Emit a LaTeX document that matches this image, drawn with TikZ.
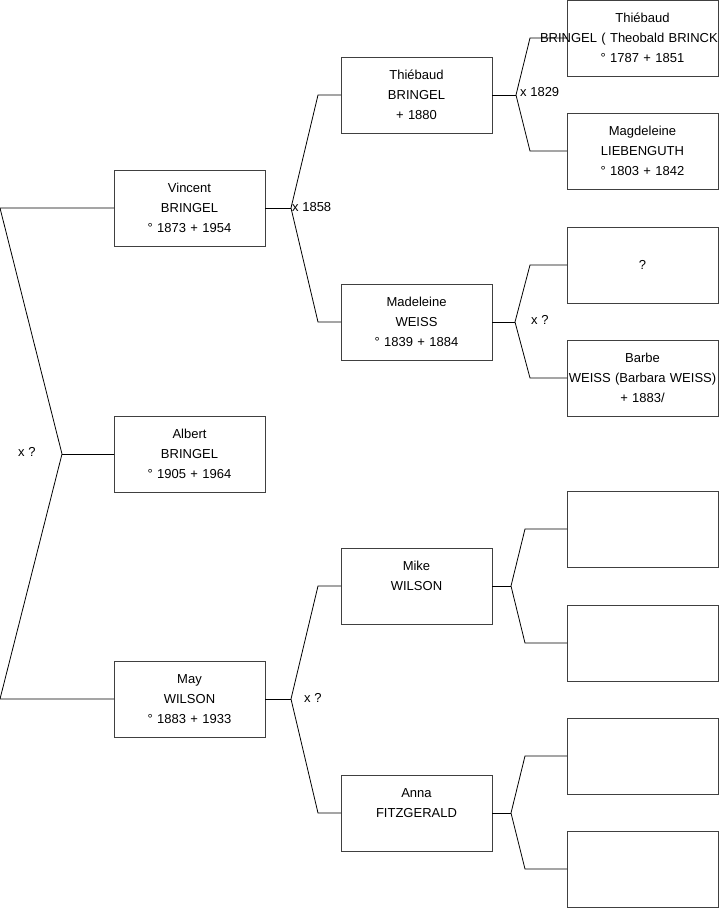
\documentclass[tikz,border=0pt]{standalone}
\usepackage{fontspec}
\setmainfont{Liberation Sans}
\usepackage{tikz}

\begin{document}
\begin{tikzpicture}[x=1pt,y=-1pt,font=\fontsize{13}{20}\selectfont]
    \tikzstyle{person}=[draw=black!75, line width=0.8pt, align=center,
        text width=141pt, minimum width=151pt, minimum height=76pt,
        inner sep=0pt, outer sep=0pt]
    \tikzstyle{link}=[line width=0.8pt]
    \tikzstyle{wedding}=[anchor=west, inner sep=0pt]

    \useasboundingbox (0,0) rectangle (719,908);

    % Generation 1
    \node[person] (vincent) at (189.5,208)
        {Vincent\\BRINGEL\\° 1873 + 1954};
    \node[person] (albert) at (189.5,454)
        {Albert\\BRINGEL\\° 1905 + 1964};
    \node[person] (may) at (189.5,699)
        {May\\WILSON\\° 1883 + 1933};

    % Generation 2
    \node[person] (thiebaud) at (416.5,95)
        {Thiébaud\\BRINGEL\\+ 1880};
    \node[person] (madeleine) at (416.5,322)
        {Madeleine\\WEISS\\° 1839 + 1884};
    \node[person] (mike) at (416.5,586)
        {Mike\\WILSON\\\mbox{}};
    \node[person] (anna) at (416.5,813)
        {Anna\\FITZGERALD\\\mbox{}};

    % Generation 3
    \node[person] (thiebaudsr) at (642.5,38)
        {Thiébaud\\\makebox[\linewidth][l]{\hspace{-32pt}BRINGEL ( Theobald BRINCK}\\° 1787 + 1851};
    \node[person] (magdeleine) at (642.5,151)
        {Magdeleine\\LIEBENGUTH\\° 1803 + 1842};
    \node[person] (unknown) at (642.5,265) {?};
    \node[person] (barbe) at (642.5,378)
        {Barbe\\\makebox[\linewidth]{WEISS (Barbara WEISS)}\\+ 1883/};
    \node[person] (mikef) at (642.5,529) {};
    \node[person] (mikem) at (642.5,643) {};
    \node[person] (annaf) at (642.5,756) {};
    \node[person] (annam) at (642.5,869) {};

    % Fork points
    \coordinate (kroot) at (62,454);
    \coordinate (kvincent) at (291,208);
    \coordinate (kthiebaud) at (516,95);
    \coordinate (kmadeleine) at (515,322);
    \coordinate (kmay) at (291,699);
    \coordinate (kmike) at (511,586);
    \coordinate (kanna) at (511,813);

    % Links
    \draw[link] (albert.west) -- (kroot);
    \draw[link] (vincent.west) -- +(-114,0) -- (kroot) -- ([xshift=-114pt]may.west) -- (may.west);

    \draw[link] (vincent.east) -- (kvincent);
    \draw[link] (thiebaud.west) -- +(-23,0) -- (kvincent) -- ([xshift=-23pt]madeleine.west) -- (madeleine.west);

    \draw[link] (thiebaud.east) -- (kthiebaud);
    \draw[link] (thiebaudsr.west) -- +(-37,0) -- (kthiebaud) -- ([xshift=-37pt]magdeleine.west) -- (magdeleine.west);

    \draw[link] (madeleine.east) -- (kmadeleine);
    \draw[link] (unknown.west) -- +(-37,0) -- (kmadeleine) -- ([xshift=-37pt]barbe.west) -- (barbe.west);

    \draw[link] (may.east) -- (kmay);
    \draw[link] (mike.west) -- +(-23,0) -- (kmay) -- ([xshift=-23pt]anna.west) -- (anna.west);

    \draw[link] (mike.east) -- (kmike);
    \draw[link] (mikef.west) -- +(-42,0) -- (kmike) -- ([xshift=-42pt]mikem.west) -- (mikem.west);

    \draw[link] (anna.east) -- (kanna);
    \draw[link] (annaf.west) -- +(-42,0) -- (kanna) -- ([xshift=-42pt]annam.west) -- (annam.west);

    % Marriages
    \node[wedding] (wroot) at (18,452) {x ?};
    \node[wedding] (wvincent) at (292,207) {x 1858};
    \node[wedding] (wthiebaud) at (520,92) {x 1829};
    \node[wedding] (wmadeleine) at (531,320) {x ?};
    \node[wedding] (wmay) at (304,698) {x ?};
\end{tikzpicture}
\end{document}
